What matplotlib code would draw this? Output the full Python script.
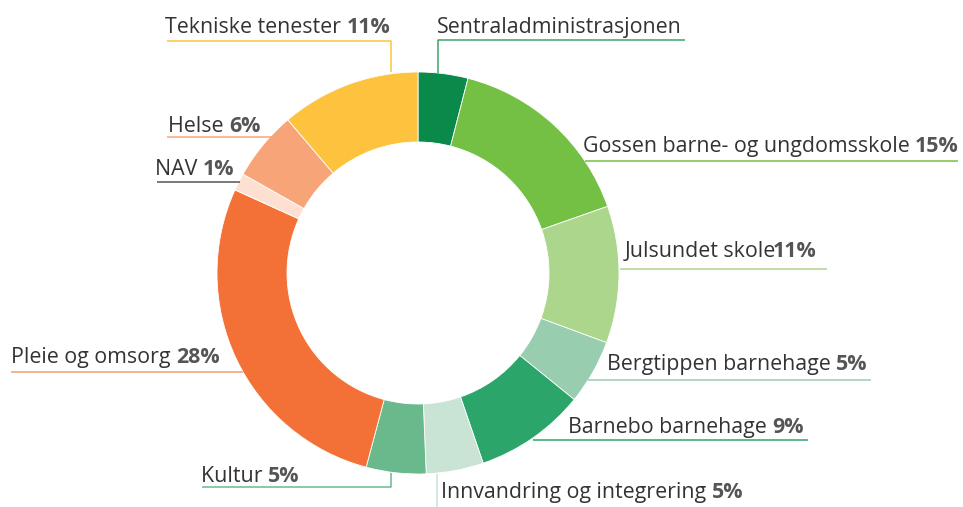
import matplotlib
matplotlib.use("Agg")
import matplotlib.pyplot as plt

W, H = 963, 507

names = ["Sentraladministrasjonen", "Gossen barne- og ungdomsskole ", "Julsundet skole",
         "Bergtippen barnehage ", "Barnebo barnehage ", "Innvandring og integrering ",
         "Kultur ", "Pleie og omsorg ", "NAV ", "Helse ", "Tekniske tenester "]
values = [4.0, 15.6, 11.0, 5.2, 8.9, 4.6, 4.8, 27.6, 1.4, 5.6, 11.2]
pct = ["", "15%", "11%", "5%", "9%", "5%", "5%", "28%", "1%", "6%", "11%"]
colors = ["#0a8a4a", "#74c044", "#acd68c", "#98cdb0", "#2ba56a", "#c9e4d4",
          "#69b98c", "#f37136", "#fde0d2", "#f7a578", "#fec33e"]
line_colors = ["#3aa56b", "#74c044", "#acd68c", "#98cdb0", "#2ba56a", "#c9e4d4",
               "#69b98c", "#f59b70", "#555555", "#f7a578", "#fec33e"]

# label layout in pixels (top-down y): text left, baseline, leader path
text_pos = [(437, 33), (583, 152), (625, 257), (607, 370), (568, 433), (441, 498),
            (201, 482), (11, 363), (155, 175), (168, 132), (165, 33)]
paths = [[(438, 73), (438, 40), (685, 40)],
         [(585, 161), (958, 161)],
         [(620, 269), (827, 269)],
         [(588, 380), (871, 380)],
         [(533, 440), (808, 440)],
         [(437, 474), (437, 507)],
         [(391, 473), (391, 487), (202, 487)],
         [(11, 372), (243, 372)],
         [(157, 182), (240, 182)],
         [(167, 137), (275, 137)],
         [(391, 72), (391, 41), (167, 41)]]

plt.rcParams['font.family'] = ['Open Sans', 'DejaVu Sans']

fig = plt.figure(figsize=(W / 100, H / 100), dpi=100)
ax = fig.add_axes([0, 0, 1, 1])

ax.pie(values, colors=colors, center=(418, H - 273), radius=201, startangle=90,
       counterclock=False, wedgeprops=dict(width=70, edgecolor="white", linewidth=0.6))
ax.set_xlim(0, W)
ax.set_ylim(0, H)
ax.set_aspect("equal")
ax.axis("off")

renderer = fig.canvas.get_renderer()
fs = 15.4
for i in range(len(names)):
    px = [p[0] for p in paths[i]]
    py = [H - p[1] for p in paths[i]]
    ax.plot(px, py, color=line_colors[i], lw=1.1, solid_capstyle="butt")
    tx, ty = text_pos[i]
    t = ax.text(tx, H - ty, names[i], fontsize=fs, color="#333333", va="baseline", ha="left")
    if pct[i]:
        bb = t.get_window_extent(renderer)
        x1 = bb.x1 - 3 if not names[i].endswith(" ") else bb.x1
        ax.text(x1, H - ty, pct[i], fontsize=fs, color="#555555", fontweight="bold",
                va="baseline", ha="left")

fig.savefig("out.png", dpi=100)
